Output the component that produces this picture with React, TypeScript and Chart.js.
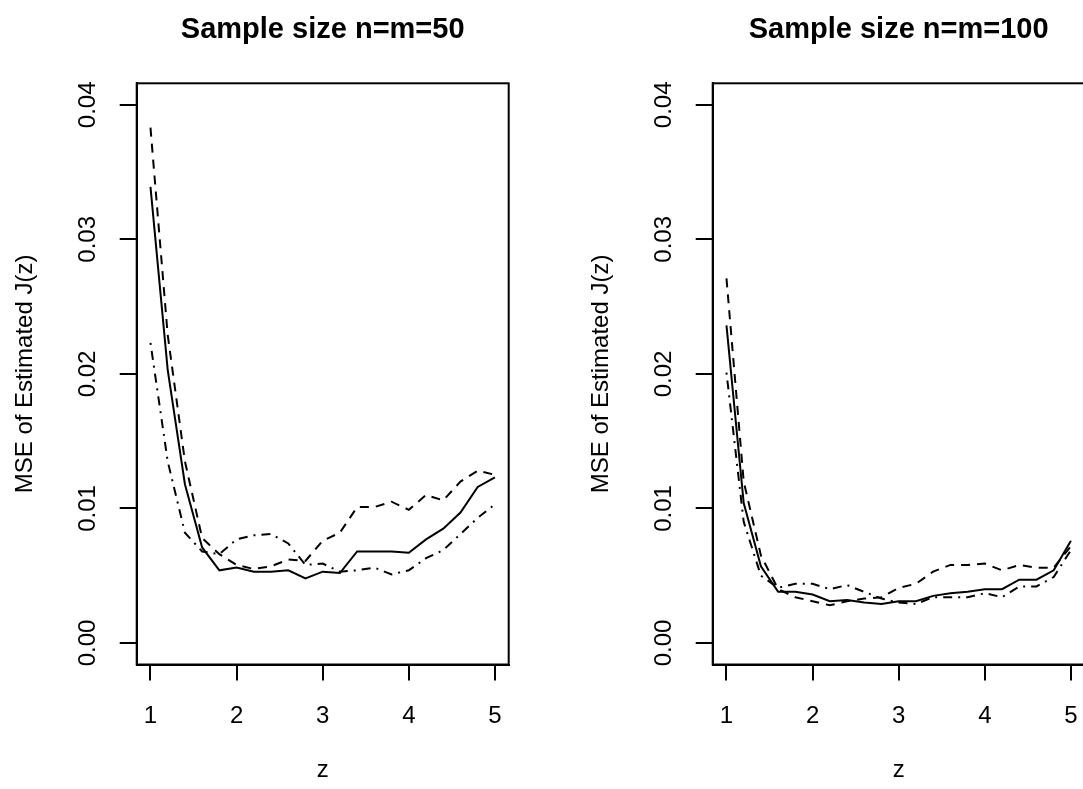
import React, { useEffect, useRef } from "react";
import { Chart, registerables } from "chart.js";

Chart.register(...registerables);

const zValues = [1, 1.2, 1.4, 1.6, 1.8, 2, 2.2, 2.4, 2.6, 2.8, 3, 3.2, 3.4, 3.6, 3.8, 4, 4.2, 4.4, 4.6, 4.8, 5];
const xTicks = [1, 2, 3, 4, 5];
const yTicks = [0, 0.01, 0.02, 0.03, 0.04];

const titles = ["Sample size n=m=50", "Sample size n=m=100"];
const yTitle = "MSE of Estimated J(z)";
const xTitle = "z";

const solid50 = [0.0339, 0.0203, 0.0118, 0.0071, 0.0054, 0.0056, 0.0053, 0.0053, 0.0054, 0.0048, 0.0053, 0.0052, 0.0068, 0.0068, 0.0068, 0.0067, 0.0077, 0.0085, 0.0097, 0.0116, 0.0123];
const dashed50 = [0.0383, 0.0229, 0.0135, 0.0078, 0.0066, 0.0058, 0.0055, 0.0057, 0.0062, 0.0061, 0.0076, 0.0082, 0.0101, 0.0101, 0.0105, 0.0099, 0.0110, 0.0106, 0.0120, 0.0128, 0.0125];
const dotdash50 = [0.0223, 0.0135, 0.0082, 0.0068, 0.0066, 0.0077, 0.0080, 0.0081, 0.0074, 0.0058, 0.0059, 0.0053, 0.0054, 0.0056, 0.0051, 0.0054, 0.0063, 0.0069, 0.0081, 0.0093, 0.0103];

const solid100 = [0.0236, 0.0104, 0.0057, 0.0038, 0.0038, 0.0036, 0.0031, 0.0032, 0.0030, 0.0029, 0.0031, 0.0031, 0.0035, 0.0037, 0.0038, 0.0040, 0.0040, 0.0047, 0.0047, 0.0054, 0.0076];
const dashed100 = [0.0271, 0.0120, 0.0065, 0.0040, 0.0034, 0.0031, 0.0028, 0.0031, 0.0033, 0.0034, 0.0041, 0.0044, 0.0053, 0.0058, 0.0058, 0.0059, 0.0054, 0.0058, 0.0056, 0.0056, 0.0072];
const dotdash100 = [0.0201, 0.0090, 0.0050, 0.0041, 0.0044, 0.0044, 0.0040, 0.0043, 0.0038, 0.0033, 0.0030, 0.0029, 0.0034, 0.0034, 0.0034, 0.0037, 0.0034, 0.0042, 0.0042, 0.0049, 0.0069];

const FONT = "'Liberation Sans', Arial, Helvetica, sans-serif";
const W = 541;
const H = 789;
const AREA_LEFT = 136.7;
const AREA_RIGHT = 508.7;
const AREA_TOP = 83.3;
const AREA_BOTTOM = 664.5;

const boxPlugin = {
  id: "rbox",
  afterDraw(chart: any) {
    const { ctx, chartArea } = chart;
    ctx.save();
    ctx.strokeStyle = "#000";
    ctx.lineWidth = 2;
    ctx.strokeRect(chartArea.left, chartArea.top, chartArea.right - chartArea.left, chartArea.bottom - chartArea.top);
    ctx.restore();
  },
};

function toPoints(vals: number[]) {
  return zValues.map((z, i) => ({ x: z, y: vals[i] }));
}

function Panel({ title, series }: { title: string; series: number[][] }) {
  const ref = useRef<HTMLCanvasElement | null>(null);
  useEffect(() => {
    if (!ref.current) return;
    const dashes = [[], [9, 7], [2, 6, 9, 6]];
    const chart = new Chart(ref.current, {
      type: "line",
      data: {
        datasets: series.map((s, i) => ({
          data: toPoints(s),
          borderColor: "#000",
          borderWidth: 2,
          borderDash: dashes[i],
          pointRadius: 0,
          tension: 0,
          fill: false,
        })),
      },
      options: {
        animation: false,
        responsive: false,
        events: [],
        layout: { padding: { left: 0, top: 0, bottom: 0, right: W - AREA_RIGHT } },
        plugins: {
          legend: { display: false },
          tooltip: { enabled: false },
          title: {
            display: true,
            text: title,
            fullSize: false,
            color: "#000",
            font: { family: FONT, size: 29, weight: "bold", lineHeight: 1.2 },
            padding: { top: 12.6, bottom: AREA_TOP - 12.6 - 34.8 },
          },
        },
        scales: {
          x: {
            type: "linear",
            min: 0.84,
            max: 5.16,
            afterBuildTicks: (s: any) => {
              s.ticks = xTicks.map((v) => ({ value: v }));
            },
            afterFit: (s: any) => {
              s.height = H - AREA_BOTTOM;
            },
            grid: { display: true, drawOnChartArea: false, drawTicks: true, tickLength: 16, color: "#000", lineWidth: 2 },
            border: { display: true, color: "#000", width: 2 },
            ticks: {
              color: "#000",
              font: { family: FONT, size: 24, lineHeight: 1.2 },
              padding: 21,
              maxRotation: 0,
              minRotation: 0,
              autoSkip: false,
              callback: (v: any) => String(v),
            },
            title: {
              display: true,
              text: xTitle,
              color: "#000",
              font: { family: FONT, size: 24, lineHeight: 1.2 },
              padding: { top: 0, bottom: 4.6 },
            },
          },
          y: {
            type: "linear",
            min: -0.0016,
            max: 0.0416,
            afterBuildTicks: (s: any) => {
              s.ticks = yTicks.map((v) => ({ value: v }));
            },
            afterFit: (s: any) => {
              s.width = AREA_LEFT;
            },
            grid: { display: true, drawOnChartArea: false, drawTicks: true, tickLength: 17, color: "#000", lineWidth: 2 },
            border: { display: true, color: "#000", width: 2 },
            ticks: {
              color: "#000",
              font: { family: FONT, size: 24, lineHeight: 1.2 },
              padding: 8,
              minRotation: 90,
              maxRotation: 90,
              crossAlign: "center",
              autoSkip: false,
              callback: (v: any) => Number(v).toFixed(2),
            },
            title: {
              display: true,
              text: yTitle,
              color: "#000",
              font: { family: FONT, size: 24, lineHeight: 1.2 },
              padding: { top: 10.6, bottom: 0 },
            },
          },
        },
      },
      plugins: [boxPlugin],
    } as any);
    return () => chart.destroy();
  }, [title, series]);
  return <canvas ref={ref} width={W} height={H} style={{ width: W, height: H, display: "block" }} />;
}

export default function App() {
  return (
    <div
      style={{
        position: "absolute",
        left: 0,
        top: 0,
        width: 1083,
        height: 789,
        overflow: "hidden",
        background: "#fff",
      }}
    >
      <div style={{ position: "absolute", left: 0, top: 0 }}>
        <Panel title={titles[0]} series={[solid50, dashed50, dotdash50]} />
      </div>
      <div style={{ position: "absolute", left: 576, top: 0 }}>
        <Panel title={titles[1]} series={[solid100, dashed100, dotdash100]} />
      </div>
    </div>
  );
}
